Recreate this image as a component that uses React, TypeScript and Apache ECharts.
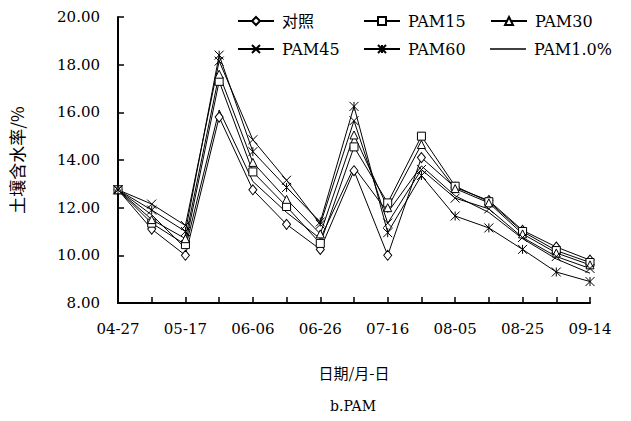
import React, { useEffect, useRef } from "react";
import * as echarts from "echarts";

const dates = ["04-27","05-07","05-17","05-27","06-06","06-16","06-26","07-06","07-16","07-26","08-05","08-15","08-25","09-04","09-14"];
const seriesNames = ["对照","PAM15","PAM30","PAM45","PAM60","PAM1.0%"];
const ck = [12.75, 11.1, 10.0, 15.8, 12.75, 11.3, 10.25, 13.55, 10.0, 14.1, 12.85, 12.3, 11.05, 10.35, 9.8];
const pam15 = [12.75, 11.35, 10.45, 17.3, 13.5, 12.05, 10.5, 14.55, 12.2, 15.0, 12.9, 12.25, 11.0, 10.2, 9.7];
const pam30 = [12.75, 11.5, 10.7, 17.6, 13.9, 12.35, 10.9, 15.05, 12.0, 14.65, 12.8, 12.2, 10.9, 10.1, 9.6];
const pam45 = [12.75, 12.15, 11.25, 18.15, 14.85, 13.15, 11.3, 15.65, 11.35, 13.6, 12.4, 11.95, 10.75, 9.95, 9.45];
const pam60 = [12.75, 11.9, 11.0, 18.4, 14.35, 12.85, 11.4, 16.25, 10.95, 13.35, 11.65, 11.15, 10.25, 9.3, 8.9];
const pam10 = [12.75, 11.7, 10.3, 16.1, 13.1, 11.8, 10.7, 13.7, 11.8, 13.75, 12.5, 11.8, 10.7, 9.85, 9.25];
const yTicks = { min: 8, max: 20, interval: 2 };

const symbols = [
  { symbol: "diamond", size: [8, 10] },
  { symbol: "rect", size: 8 },
  { symbol: "triangle", size: 8 },
  { symbol: "path://M0,0L10,10M10,0L0,10", size: 9 },
  { symbol: "path://M0,0L10,10M10,0L0,10M5,0L5,10", size: 9 },
  { symbol: "none", size: 0 },
];
const values = [ck, pam15, pam30, pam45, pam60, pam10];

export default function App() {
  const ref = useRef<HTMLDivElement>(null);
  useEffect(() => {
    const chart = echarts.init(ref.current!, null, { renderer: "svg" });
    const serif = "'DejaVu Serif', 'Liberation Serif', 'Noto Sans CJK SC', serif";
    const legendBase = {
      orient: "vertical",
      padding: 0,
      itemWidth: 36,
      itemHeight: 10,
      itemGap: 12,
      textStyle: { fontFamily: serif, fontSize: 16, color: "#000", lineHeight: 16, padding: [0, 0, 0, 3] },
      inactiveColor: "#000",
    };
    chart.setOption({
      animation: false,
      backgroundColor: "#fff",
      grid: { left: 116, right: 41, top: 17, bottom: 118 },
      legend: [
        { ...legendBase, left: 237, top: 13, data: [seriesNames[0], seriesNames[3]] },
        { ...legendBase, left: 363, top: 13, data: [seriesNames[1], seriesNames[4]] },
        { ...legendBase, left: 490, top: 13, data: [seriesNames[2]] },
        {
          ...legendBase,
          left: 490,
          top: 41,
          itemHeight: 1.5,
          icon: "rect",
          itemStyle: { color: "#000", borderWidth: 0 },
          data: [seriesNames[5]],
        },
      ],
      xAxis: {
        type: "category",
        data: dates,
        boundaryGap: false,
        name: "日期/月-日",
        nameLocation: "middle",
        nameGap: 62,
        nameTextStyle: { fontFamily: "'Noto Sans CJK SC', sans-serif", fontSize: 15, color: "#000" },
        axisLine: { lineStyle: { color: "#000", width: 2 } },
        axisTick: { inside: true, length: 6, interval: 0, lineStyle: { color: "#000", width: 1.5 } },
        axisLabel: { interval: 1, margin: 18, fontFamily: serif, fontSize: 15, color: "#000" },
        splitLine: { show: false },
      },
      yAxis: {
        type: "value",
        min: yTicks.min,
        max: yTicks.max,
        interval: yTicks.interval,
        name: "土壤含水率/%",
        nameLocation: "middle",
        nameRotate: 90,
        nameGap: 93,
        nameTextStyle: { fontFamily: "'Noto Sans CJK SC', sans-serif", fontSize: 17, color: "#000" },
        axisLine: { show: true, lineStyle: { color: "#000", width: 2 } },
        axisTick: { show: true, inside: true, length: 6, lineStyle: { color: "#000", width: 1.5 } },
        axisLabel: { margin: 18, fontFamily: serif, fontSize: 15, color: "#000", formatter: (v: number) => v.toFixed(2) },
        splitLine: { show: false },
      },
      graphic: [
        {
          type: "text",
          x: 353,
          y: 406,
          style: { text: "b.PAM", align: "center", verticalAlign: "middle", font: "14px 'DejaVu Serif', serif", fill: "#000" },
        },
      ],
      series: seriesNames.map((name, i) => ({
        name,
        type: "line",
        data: values[i],
        symbol: symbols[i].symbol,
        symbolSize: symbols[i].size,
        showSymbol: symbols[i].symbol !== "none",
        color: "#000",
        lineStyle: { color: "#000", width: 1 },
        itemStyle: { color: "#fff", borderColor: "#000", borderWidth: 1 },
        emphasis: { disabled: true },
      })),
    });
    return () => chart.dispose();
  }, []);
  return <div ref={ref} style={{ position: "fixed", left: 0, top: 0, width: 631, height: 421 }} />;
}
